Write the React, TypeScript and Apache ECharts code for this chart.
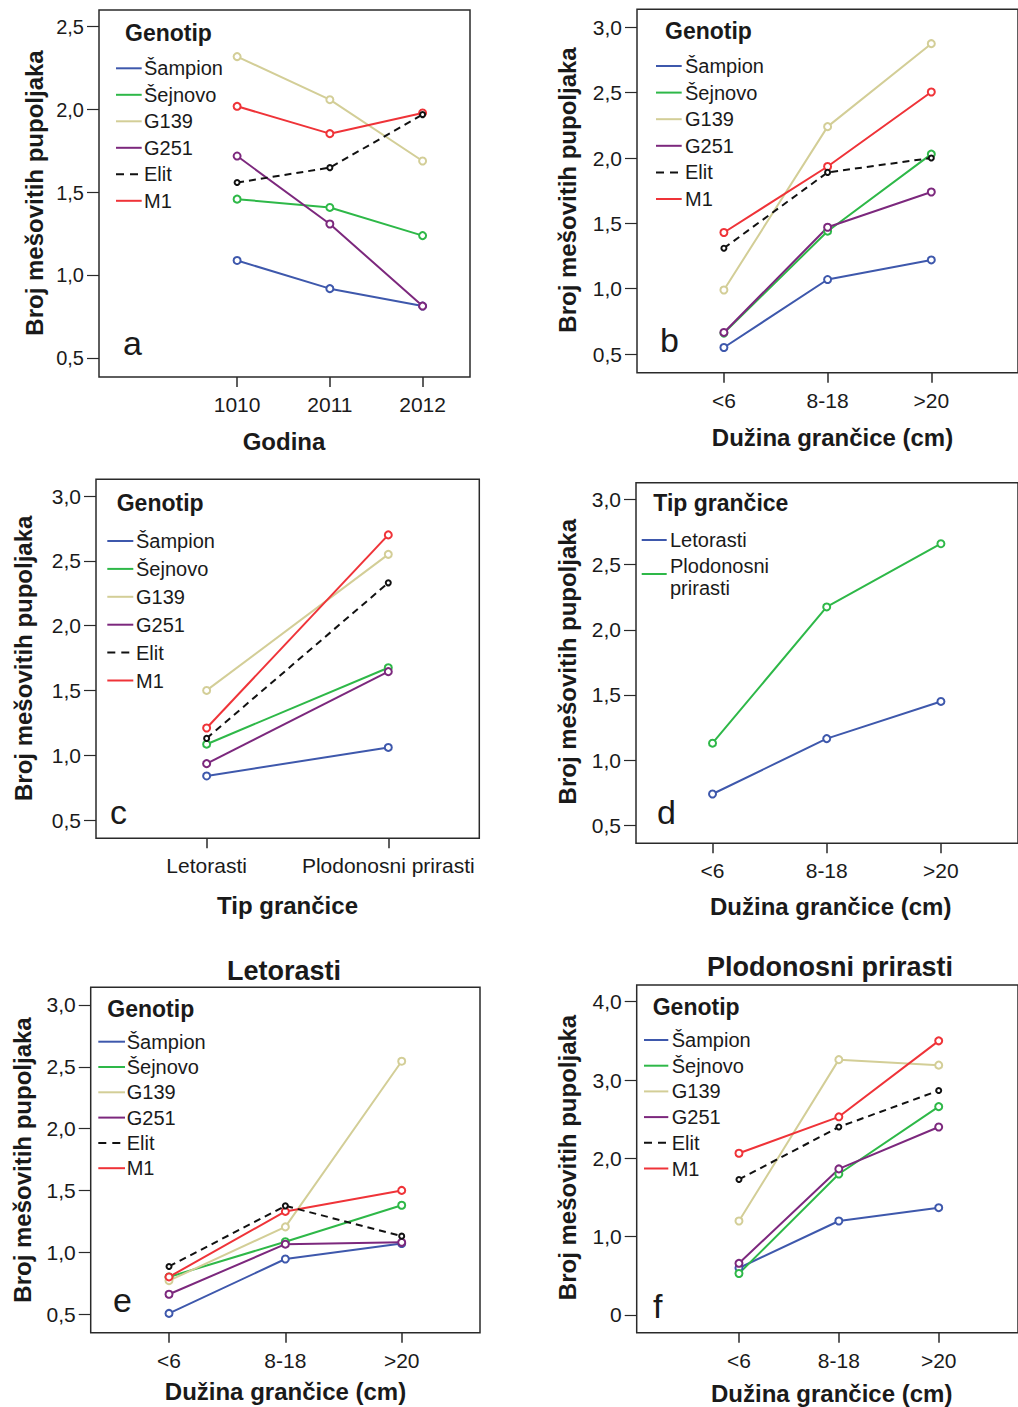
import React, { useEffect, useRef } from "react";
import * as echarts from "echarts";

// ---------- categories & labels ----------
const genotypes = ["Šampion", "Šejnovo", "G139", "G251", "Elit", "M1"];
const branchTypes = ["Letorasti", "Plodonosni prirasti"];
const yearCats = ["1010", "2011", "2012"];
const lengthCats = ["<6", "8-18", ">20"];
const typeCats = ["Letorasti", "Plodonosni prirasti"];

const yTicksA = [0.5, 1.0, 1.5, 2.0, 2.5];
const yLabelsA = ["0,5", "1,0", "1,5", "2,0", "2,5"];
const yTicks3 = [0.5, 1.0, 1.5, 2.0, 2.5, 3.0];
const yLabels3 = ["0,5", "1,0", "1,5", "2,0", "2,5", "3,0"];
const yTicksF = [0, 1, 2, 3, 4];
const yLabelsF = ["0", "1,0", "2,0", "3,0", "4,0"];

// ---------- values (rows follow genotypes / branchTypes) ----------
const valuesA = [
  [1.09, 0.92, 0.815],
  [1.46, 1.41, 1.24],
  [2.32, 2.06, 1.69],
  [1.72, 1.31, 0.815],
  [1.56, 1.65, 1.97],
  [2.02, 1.855, 1.98],
];
const valuesB = [
  [0.55, 1.07, 1.22],
  [0.66, 1.44, 2.03],
  [0.99, 2.24, 2.875],
  [0.665, 1.47, 1.74],
  [1.31, 1.89, 2.0],
  [1.43, 1.935, 2.505],
];
const valuesC = [
  [0.84, 1.06],
  [1.085, 1.675],
  [1.50, 2.55],
  [0.935, 1.645],
  [1.13, 2.33],
  [1.21, 2.70],
];
const valuesD = [
  [0.74, 1.165, 1.45],
  [1.13, 2.175, 2.66],
];
const valuesE = [
  [0.505, 0.945, 1.07],
  [0.80, 1.085, 1.38],
  [0.77, 1.205, 2.545],
  [0.66, 1.065, 1.08],
  [0.885, 1.375, 1.13],
  [0.80, 1.33, 1.50],
];
const valuesF = [
  [0.60, 1.20, 1.37],
  [0.53, 1.80, 2.66],
  [1.20, 3.26, 3.19],
  [0.66, 1.865, 2.40],
  [1.73, 2.40, 2.865],
  [2.065, 2.53, 3.50],
];

// ---------- styles ----------
const genoColors = ["#3E58AC", "#2EB848", "#D3CE97", "#7C287D", "#111111", "#EF3338"];
const typeColors = ["#3E58AC", "#2EB848"];
const FONT = '"Liberation Sans", Arial, Helvetica, sans-serif';
const INK = "#1a1a1a";

const yTitle = "Broj mešovitih pupoljaka";

type Panel = {
  letter: string;
  grid: { left: number; top: number; width: number; height: number };
  xRange: [number, number];
  yRange: [number, number];
  cats: string[];
  yTicks: number[];
  yLabels: string[];
  names: string[];
  colors: string[];
  values: number[][];
  xTitle: string;
  xTitlePos: [number, number];
  yTitlePos: [number, number];
  letterPos: [number, number];
  legendTitle: string;
  legTitlePos: [number, number];
  legLine: [number, number];
  legTextX: number;
  legRows: number[];
  heading?: string;
  headingPos?: [number, number];
  yFont: number;
};

const rows = (start: number, step: number, n: number) =>
  Array.from({ length: n }, (_, i) => start + i * step);

const panels: Panel[] = [
  {
    letter: "a",
    grid: { left: 99, top: 10, width: 371, height: 367 },
    xRange: [-1.489, 2.511],
    yRange: [0.387, 2.601],
    cats: yearCats,
    yTicks: yTicksA,
    yLabels: yLabelsA,
    names: genotypes,
    colors: genoColors,
    values: valuesA,
    xTitle: "Godina",
    xTitlePos: [284, 441.7],
    yTitlePos: [34, 193],
    letterPos: [123, 343],
    legendTitle: "Genotip",
    legTitlePos: [125, 32.7],
    legLine: [116, 141.7],
    legTextX: 144,
    legRows: rows(68.3, 26.5, 6),
    yFont: 20,
  },
  {
    letter: "b",
    grid: { left: 637, top: 9.3, width: 431, height: 363.4 },
    xRange: [-0.838, 2.836],
    yRange: [0.357, 3.138],
    cats: lengthCats,
    yTicks: yTicks3,
    yLabels: yLabels3,
    names: genotypes,
    colors: genoColors,
    values: valuesB,
    xTitle: "Dužina grančice (cm)",
    xTitlePos: [832.5, 437.3],
    yTitlePos: [567.3, 190],
    letterPos: [660, 340],
    legendTitle: "Genotip",
    legTitlePos: [665, 30.7],
    legLine: [656, 681.7],
    legTextX: 685,
    legRows: rows(66, 26.6, 6),
    yFont: 21,
  },
  {
    letter: "c",
    grid: { left: 96, top: 479.3, width: 383.3, height: 359 },
    xRange: [-0.609, 1.501],
    yRange: [0.359, 3.129],
    cats: typeCats,
    yTicks: yTicks3,
    yLabels: yLabels3,
    names: genotypes,
    colors: genoColors,
    values: valuesC,
    xTitle: "Tip grančice",
    xTitlePos: [287.5, 905],
    yTitlePos: [23.3, 658.3],
    letterPos: [110, 811.5],
    legendTitle: "Genotip",
    legTitlePos: [116.7, 503.3],
    legLine: [107.3, 133.3],
    legTextX: 136,
    legRows: rows(541, 27.9, 6),
    yFont: 21,
  },
  {
    letter: "d",
    grid: { left: 636, top: 482.7, width: 389, height: 360.6 },
    xRange: [-0.67, 2.675],
    yRange: [0.362, 3.128],
    cats: lengthCats,
    yTicks: yTicks3,
    yLabels: yLabels3,
    names: branchTypes,
    colors: typeColors,
    values: valuesD,
    xTitle: "Dužina grančice (cm)",
    xTitlePos: [830.7, 906.7],
    yTitlePos: [567.5, 661.7],
    letterPos: [657, 811.5],
    legendTitle: "Tip grančice",
    legTitlePos: [653.3, 503.3],
    legLine: [641.7, 666.7],
    legTextX: 670,
    legRows: [540, 574],
    yFont: 21,
  },
  {
    letter: "e",
    grid: { left: 90.7, top: 987.3, width: 389.3, height: 345.4 },
    xRange: [-0.673, 2.673],
    yRange: [0.349, 3.143],
    cats: lengthCats,
    yTicks: yTicks3,
    yLabels: yLabels3,
    names: genotypes,
    colors: genoColors,
    values: valuesE,
    xTitle: "Dužina grančice (cm)",
    xTitlePos: [285.5, 1391.7],
    yTitlePos: [22.5, 1160],
    letterPos: [113, 1300],
    legendTitle: "Genotip",
    legTitlePos: [107.3, 1009.3],
    legLine: [98.3, 125],
    legTextX: 126.7,
    legRows: rows(1041.7, 25.3, 6),
    heading: "Letorasti",
    headingPos: [284, 970.7],
    yFont: 21,
  },
  {
    letter: "f",
    grid: { left: 636.7, top: 985, width: 420, height: 347.7 },
    xRange: [-1.024, 2.794],
    yRange: [-0.226, 4.213],
    cats: lengthCats,
    yTicks: yTicksF,
    yLabels: yLabelsF,
    names: genotypes,
    colors: genoColors,
    values: valuesF,
    xTitle: "Dužina grančice (cm)",
    xTitlePos: [831.7, 1393.3],
    yTitlePos: [567.5, 1157.5],
    letterPos: [653, 1306],
    legendTitle: "Genotip",
    legTitlePos: [652.7, 1007.3],
    legLine: [644, 668.3],
    legTextX: 671.7,
    legRows: rows(1040, 25.7, 6),
    heading: "Plodonosni prirasti",
    headingPos: [830, 966.7],
    yFont: 21,
  },
];

function buildOption() {
  const grids: any[] = [];
  const xAxes: any[] = [];
  const yAxes: any[] = [];
  const series: any[] = [];
  const graphics: any[] = [];

  panels.forEach((p, pi) => {
    grids.push({
      ...p.grid,
      show: true,
      borderColor: "#2a2a2a",
      borderWidth: 1.5,
      backgroundColor: "transparent",
      containLabel: false,
    });
    const catIdx = p.cats.map((_, i) => i);
    xAxes.push({
      type: "value",
      gridIndex: pi,
      position: "bottom",
      min: p.xRange[0],
      max: p.xRange[1],
      axisLine: { show: false, onZero: false },
      splitLine: { show: false },
      axisTick: {
        show: true,
        customValues: catIdx,
        length: 10,
        lineStyle: { color: "#2a2a2a", width: 1.5 },
      },
      axisLabel: {
        customValues: catIdx,
        formatter: (v: number) => p.cats[Math.round(v)] ?? "",
        margin: 17,
        fontSize: 21,
        fontFamily: FONT,
        color: INK,
      },
    });
    yAxes.push({
      type: "value",
      gridIndex: pi,
      position: "left",
      min: p.yRange[0],
      max: p.yRange[1],
      axisLine: { show: false, onZero: false },
      splitLine: { show: false },
      axisTick: {
        show: true,
        customValues: p.yTicks,
        length: 12,
        lineStyle: { color: "#2a2a2a", width: 1.2 },
      },
      axisLabel: {
        customValues: p.yTicks,
        formatter: (v: number) => {
          let best = 0;
          p.yTicks.forEach((t, i) => {
            if (Math.abs(t - v) < Math.abs(p.yTicks[best] - v)) best = i;
          });
          return p.yLabels[best];
        },
        margin: 15,
        fontSize: p.yFont,
        fontFamily: FONT,
        color: INK,
      },
    });

    p.names.forEach((name, si) => {
      const dashed = name === "Elit";
      series.push({
        type: "line",
        name: `${p.letter}-${name}`,
        xAxisIndex: pi,
        yAxisIndex: pi,
        data: p.values[si].map((v, j) => [j, v]),
        symbol: "emptyCircle",
        symbolSize: dashed ? 5 : 7,
        showSymbol: true,
        lineStyle: {
          color: p.colors[si],
          width: 2,
          type: dashed ? [7, 5] : "solid",
        },
        itemStyle: { color: p.colors[si], borderWidth: 1.5 },
        z: dashed ? 3 : 2,
      });
    });

    // legend (drawn with graphic elements)
    graphics.push({
      type: "text",
      x: p.legTitlePos[0],
      y: p.legTitlePos[1],
      style: {
        text: p.legendTitle,
        fontSize: 23,
        fontWeight: "bold",
        fontFamily: FONT,
        fill: INK,
        align: "left",
        verticalAlign: "middle",
      },
    });
    p.names.forEach((name, si) => {
      const y = p.legRows[si];
      const dashed = name === "Elit";
      graphics.push({
        type: "line",
        shape: { x1: p.legLine[0], y1: y, x2: p.legLine[1], y2: y },
        style: {
          stroke: p.colors[si],
          lineWidth: 2,
          lineDash: dashed ? [8, 6] : null,
        },
      });
      const label = name === "Plodonosni prirasti" ? "Plodonosni\nprirasti" : name;
      graphics.push({
        type: "text",
        x: p.legTextX,
        y: label.includes("\n") ? y + 3 : y,
        style: {
          text: label,
          fontSize: 20,
          lineHeight: 22,
          fontFamily: FONT,
          fill: INK,
          align: "left",
          verticalAlign: "middle",
        },
      });
    });

    // axis titles
    graphics.push({
      type: "text",
      x: p.xTitlePos[0],
      y: p.xTitlePos[1],
      style: {
        text: p.xTitle,
        fontSize: 24,
        fontWeight: "bold",
        fontFamily: FONT,
        fill: INK,
        align: "center",
        verticalAlign: "middle",
      },
    });
    graphics.push({
      type: "text",
      x: p.yTitlePos[0],
      y: p.yTitlePos[1],
      rotation: Math.PI / 2,
      style: {
        text: yTitle,
        fontSize: 24,
        fontWeight: "bold",
        fontFamily: FONT,
        fill: INK,
        align: "center",
        verticalAlign: "middle",
      },
    });
    // panel letter
    graphics.push({
      type: "text",
      x: p.letterPos[0],
      y: p.letterPos[1],
      style: {
        text: p.letter,
        fontSize: 34,
        fontFamily: FONT,
        fill: INK,
        align: "left",
        verticalAlign: "middle",
      },
    });
    if (p.heading && p.headingPos) {
      graphics.push({
        type: "text",
        x: p.headingPos[0],
        y: p.headingPos[1],
        style: {
          text: p.heading,
          fontSize: 27,
          fontWeight: "bold",
          fontFamily: FONT,
          fill: INK,
          align: "center",
          verticalAlign: "middle",
        },
      });
    }
  });

  return {
    animation: false,
    backgroundColor: "#ffffff",
    grid: grids,
    xAxis: xAxes,
    yAxis: yAxes,
    series,
    graphic: { elements: graphics },
  };
}

export default function App() {
  const ref = useRef<HTMLDivElement>(null);
  useEffect(() => {
    if (!ref.current) return;
    const chart = echarts.init(ref.current, null, {
      renderer: "svg",
      width: 1018,
      height: 1407,
    });
    chart.setOption(buildOption() as any);
    return () => chart.dispose();
  }, []);
  return (
    <div
      ref={ref}
      style={{
        position: "absolute",
        left: 0,
        top: 0,
        width: 1018,
        height: 1407,
        background: "#fff",
      }}
    />
  );
}
